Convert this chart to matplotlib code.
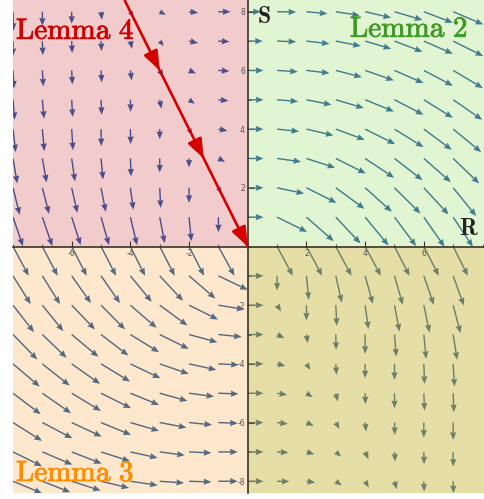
import numpy as np
import matplotlib
matplotlib.use('Agg')
import matplotlib.pyplot as plt
import matplotlib.patheffects as pe
from matplotlib.patches import Rectangle
from matplotlib.ticker import MultipleLocator

# grid points of the field (R across, S up)
r_left = [-8, -7, -6, -5, -4, -3, -2, -1]
r_right = [0, 1, 2, 3, 4, 5, 6, 7]
s_upper = [8, 7, 6, 5, 4, 3, 2, 1]
s_lower = [0, -1, -2, -3, -4, -5, -6, -7, -8]

# Lemma 4 quadrant (R<0, S>0), rows S=8..1
dR4 = [[0.5, 0, 0, 1, 3, 6, 9, 12],
       [0, 0.5, 0.5, 0.5, 1.7, 4, 9, 11],
       [1, 1, 0.7, 0.7, 1.3, 3.5, 7, 11],
       [1.7, 1.7, 1, 0.7, 0.3, 1.7, 5.7, 10],
       [2.7, 2, 1.3, 0.3, 0.3, 0, 3, 9],
       [4.3, 4.3, 3.3, 2, 0.7, 0, 0, 6.7],
       [6.7, 6.7, 5.7, 4.7, 3, 1, 0, 3],
       [10, 10, 9, 8, 6.7, 5, 2.3, 0]]
dS4 = [[-19, -14, -12, -8, -6, -3, -1, 0],
       [-15, -14, -12, -10, -7.7, -5, -2, -0.5],
       [-18, -16, -14, -12, -10, -7, -3, -0.7],
       [-20, -19, -17, -15, -12, -9, -4, -1],
       [-23, -22, -21, -17, -15, -10, -6, -1.7],
       [-25, -24, -23, -21, -18, -14, -9, -3.3],
       [-27, -26, -25, -24, -22, -20, -15, -6],
       [-29, -29, -28, -28, -28, -26, -24, -15]]

# Lemma 2 quadrant (R>0, S>0), rows S=8..1
dR2 = [[13, 19, 21, 24, 26, 28, 29, 30],
       [15, 19, 23, 25, 26, 28, 29, 30],
       [15.7, 20.7, 23, 26, 28.7, 29, 29, 29.7],
       [15.7, 21, 25, 28, 28.7, 29, 29, 29],
       [15.7, 22, 27, 29, 30, 29, 28, 28],
       [15.7, 24, 28.7, 30, 29, 28, 27, 26],
       [15.7, 27, 30, 28.7, 26.7, 26, 24.7, 23],
       [15.7, 30, 27.3, 24.7, 23.3, 21.7, 20.7, 19.7]]
dS2 = [[0, -0.3, -2, -3.7, -6, -8.3, -11, -12.7],
       [0, -0.7, -2.7, -5, -7.7, -10.7, -12.7, -15],
       [0, -1.3, -2.7, -6.7, -10, -12.7, -15.3, -17.7],
       [0, -1.7, -5, -8.3, -11.7, -15, -18, -20],
       [0, -2.3, -6.3, -10.7, -15, -18, -20.7, -23],
       [0, -3.3, -9.3, -15, -19.3, -21.7, -23.7, -25],
       [0, -5.7, -15, -21, -24, -25.7, -26.7, -28.3],
       [0, -14.7, -24, -26.3, -28.3, -29, -29.7, -29.7]]

# Lemma 3 quadrant (R<0, S<=0), rows S=0..-8
dR3 = [[15.7, 15.3, 15, 15, 14.7, 15, 15, 16],
       [17.7, 17.7, 19.3, 19, 21.3, 23.3, 26.3, 29.3],
       [21, 21, 23.3, 24, 26.3, 27.7, 29, 26],
       [24.3, 24.3, 26.7, 27.3, 28.7, 29, 28.3, 23.3],
       [26.7, 27.3, 28.3, 29, 30, 29, 27.3, 20.3],
       [27.7, 28.7, 29.3, 30, 28.7, 27.7, 25, 20],
       [29, 30, 30, 30, 28.7, 26.7, 23, 19.3],
       [29, 30, 30, 29, 27.3, 25, 22.3, 19.3],
       [29, 28, 29, 28, 27.3, 24.3, 22.3, 19.3]]
dS3 = [[-29.3, -29.3, -29.3, -29.3, -29.3, -29.3, -29.3, -29.3],
       [-28.3, -28.3, -27.3, -27.3, -26, -25, -22.7, -14],
       [-27, -26, -24.3, -24.3, -22.7, -20.3, -14.3, -4.3],
       [-25, -23.3, -22.3, -21, -17.7, -14.3, -7.7, -2.3],
       [-22.7, -21.7, -20, -17.7, -14.3, -10, -6, -1],
       [-21, -20, -17.7, -15, -11.7, -7.7, -3.3, -0.7],
       [-18.3, -15.7, -14, -12.3, -8.3, -5, -2.3, -0.7],
       [-14.3, -12.7, -11.7, -9.3, -6, -3.3, -1, 0],
       [-12, -11, -9.3, -6.7, -4, -1.7, -0.7, 0]]

# lower right quadrant (R>=0, S<=0), rows S=0..-8, no arrow at the origin
dR1 = [[np.nan, 15.7, 15.7, 15.7, 15.7, 15, 15, 14.7],
       [15.7, 0, 2.3, 6, 7.7, 8.3, 10, 10.7],
       [15.7, 4, 0, 1, 3.3, 5, 5.7, 7.3],
       [15.7, 7.3, 1.3, 0.3, 0, 1.7, 2.3, 4],
       [15.7, 8.3, 4, 0.7, 0, 0, 0.7, 1.3],
       [15.7, 10, 6.3, 2, 0.3, 0, 0.7, 0.7],
       [15.7, 10.7, 7.3, 3.7, 1, 0.3, 0, 0],
       [15.7, 11.3, 8, 5.3, 3.3, 0.7, 0.3, 0],
       [15.7, 12.3, 8.7, 6, 3.7, 2.3, 0.3, 0.3]]
dS1 = [[np.nan, -29.3, -29.3, -29.3, -29.3, -29.3, -29.3, -29.3],
       [0, -14.7, -24, -26.7, -28, -29, -29, -29.7],
       [0, -6.3, -15.3, -20.7, -24, -26.3, -27.3, -28],
       [0, -3.7, -8.7, -15.3, -19.3, -22, -24.3, -25.3],
       [0, -2, -6, -11, -14.3, -16, -20, -22.7],
       [0, -1.7, -4, -8.3, -11, -15, -17.3, -19],
       [0, -1.3, -3.3, -6.3, -9, -12.3, -15, -17.3],
       [0, -0.7, -2.3, -4.7, -7.3, -9.7, -12.3, -14.7],
       [0, -0.3, -1.3, -4.3, -6.3, -8, -10.3, -12]]

# trajectory along the Lemma 4 boundary
traj_R = [-4.2, 0.0]
traj_S = [8.4, 0.0]
tip_R = [-3.0, -1.5, 0.0]
tip_S = [6.0, 3.0, 0.0]


def run_main():
    plt.rcParams['mathtext.fontset'] = 'cm'
    plt.rcParams['axes.unicode_minus'] = False

    fig = plt.figure(figsize=(4.84, 4.99), dpi=100)
    ax = fig.add_axes([13 / 484, 6 / 499, 471 / 484, 493 / 499])
    xmin, xmax, ymin, ymax = -8.0, 8.05, -8.4, 8.4
    ax.set_xlim(xmin, xmax)
    ax.set_ylim(ymin, ymax)

    # quadrant backgrounds
    ax.add_patch(Rectangle((xmin, 0), -xmin, ymax, fc='#f2cccc', ec='none', zorder=0))
    ax.add_patch(Rectangle((0, 0), xmax, ymax, fc='#e2f5d3', ec='none', zorder=0))
    ax.add_patch(Rectangle((xmin, ymin), -xmin, -ymin, fc='#fde7cd', ec='none', zorder=0))
    ax.add_patch(Rectangle((0, ymin), xmax, -ymin, fc='#e5dfa7', ec='none', zorder=0))

    qkw = dict(angles='xy', scale_units='xy', scale=29.35, pivot='tail',
               width=0.003, headwidth=4.5, headlength=5.5, headaxislength=5, zorder=2)
    for rs, ss, u, v, col in [(r_left, s_upper, dR4, dS4, '#4a4e8a'),
                              (r_right, s_upper, dR2, dS2, '#3e7c8e'),
                              (r_left, s_lower, dR3, dS3, '#55697f'),
                              (r_right, s_lower, dR1, dS1, '#6b7f69')]:
        X, Y = np.meshgrid(rs, ss)
        U = np.ma.masked_invalid(np.array(u, dtype=float))
        V = np.ma.masked_invalid(np.array(v, dtype=float))
        ax.quiver(X, Y, U, V, color=col, **qkw)

    # red trajectory with arrowheads
    red = '#d40000'
    ax.plot(traj_R, traj_S, color=red, lw=1.9, zorder=4, solid_capstyle='butt')
    for r, s in zip(tip_R, tip_S):
        ax.annotate('', xy=(r, s), xytext=(r - 0.25, s + 0.5),
                    arrowprops=dict(arrowstyle='-|>,head_length=0.65,head_width=0.25',
                                    color=red, lw=1.9, mutation_scale=18,
                                    shrinkA=0, shrinkB=0), zorder=5)

    # axes through the origin
    for side in ['top', 'right']:
        ax.spines[side].set_visible(False)
    for side in ['left', 'bottom']:
        ax.spines[side].set_position(('data', 0))
        ax.spines[side].set_color('#3b3328')
        ax.spines[side].set_linewidth(1.2)
        ax.spines[side].set_zorder(3)
    ax.set_xticks([-6, -4, -2, 2, 4, 6])
    ax.set_yticks([-8, -6, -4, -2, 2, 4, 6, 8])
    ax.xaxis.set_minor_locator(MultipleLocator(1))
    ax.yaxis.set_minor_locator(MultipleLocator(1))
    ax.tick_params(axis='both', which='major', direction='in', length=4, width=0.8,
                   color='#3b3328', labelsize=5.5, labelcolor='#555555', pad=2)
    ax.tick_params(axis='both', which='minor', direction='in', length=2.5, width=0.6,
                   color='#3b3328')

    # labels (thin stroke to get the heavier look)
    for x, y, txt, col, ha in [(0.0064, 0.921, r'$\mathrm{Lemma\ 4}$', '#d10000', 'left'),
                               (0.966, 0.925, r'$\mathrm{Lemma\ 2}$', '#3e9b23', 'right'),
                               (0.0064, 0.024, r'$\mathrm{Lemma\ 3}$', '#ff8c00', 'left')]:
        ax.text(x, y, txt, transform=ax.transAxes, color=col, fontsize=21,
                ha=ha, va='baseline', zorder=6,
                path_effects=[pe.withStroke(linewidth=0.6, foreground=col)])
    ax.text(0.518, 0.953, r'$\mathbf{S}$', transform=ax.transAxes,
            color='#222222', fontsize=17, ha='left', va='baseline', zorder=6)
    ax.text(0.989, 0.523, r'$\mathbf{R}$', transform=ax.transAxes,
            color='#222222', fontsize=17, ha='right', va='baseline', zorder=6)

    fig.savefig('out.png', dpi=100)


if __name__ == '__main__':
    run_main()
